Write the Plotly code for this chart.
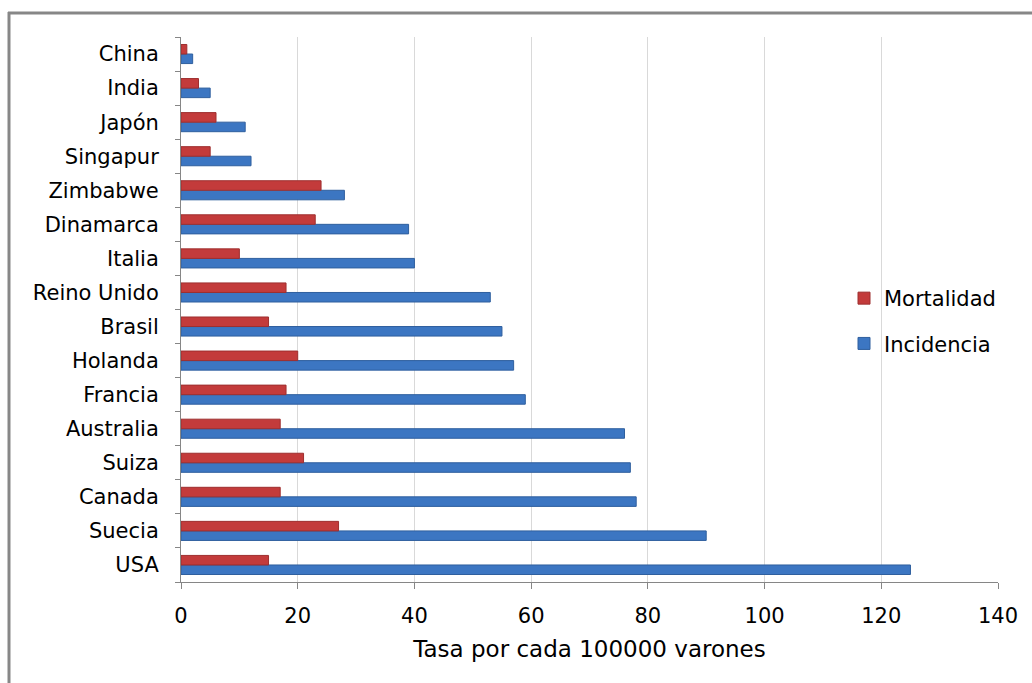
import plotly.graph_objects as go

# Countries listed bottom to top (USA at the bottom of the chart)
paises = ["USA", "Suecia", "Canada", "Suiza", "Australia", "Francia", "Holanda",
          "Brasil", "Reino Unido", "Italia", "Dinamarca", "Zimbabwe", "Singapur",
          "Japón", "India", "China"]
incidencia = [125, 90, 78, 77, 76, 59, 57, 55, 53, 40, 39, 28, 12, 11, 5, 2]
mortalidad = [15, 27, 17, 21, 17, 18, 20, 15, 18, 10, 23, 24, 5, 6, 3, 1]
x_ticks = [0, 20, 40, 60, 80, 100, 120, 140]

FONT = "DejaVu Sans"
AXIS_GRAY = "#868686"
FS = 21

fig = go.Figure()
fig.add_trace(go.Bar(
    y=paises, x=incidencia, orientation="h", name="Incidencia",
    legendgroup="inc", legendrank=2,
    marker=dict(color="#3C76C2", line=dict(color="#2F5F9E", width=1)),
))
fig.add_trace(go.Bar(
    y=paises, x=mortalidad, orientation="h", name="Mortalidad",
    legendgroup="mor", legendrank=1,
    marker=dict(color="#C33B3B", line=dict(color="#9E2F2F", width=1)),
))

# Plot area geometry in pixels
L, R, T, B = 181, 34, 37, 101
W, H = 1032, 683
pw, ph = W - L - R, H - T - B

def px_x(p):
    return (p - L) / pw

def px_y(p):
    return (H - B - p) / ph

# Outer frame (left and top edges visible)
frame = dict(color="#878787", width=3)
fig.add_shape(type="line", xref="paper", yref="paper",
              x0=px_x(9), x1=px_x(9), y0=px_y(700), y1=px_y(12), line=frame)
fig.add_shape(type="line", xref="paper", yref="paper",
              x0=px_x(8), x1=px_x(1040), y0=px_y(13), y1=px_y(13), line=frame)

fig.update_layout(
    width=W, height=H,
    margin=dict(l=L, r=R, t=T, b=B, pad=0),
    paper_bgcolor="white", plot_bgcolor="white",
    barmode="group", bargap=0.44, bargroupgap=0,
    font=dict(family=FONT, size=FS, color="#000000"),
    showlegend=True,
    legend=dict(
        x=px_x(844), y=px_y(321), xanchor="left", yanchor="middle",
        traceorder="grouped", tracegroupgap=15,
        font=dict(family=FONT, size=FS, color="#000000"),
        bgcolor="rgba(0,0,0,0)",
    ),
    xaxis=dict(
        range=[0, 140], tickvals=x_ticks, ticktext=[str(v) for v in x_ticks],
        showgrid=True, gridcolor="#D9D9D9", gridwidth=1,
        showline=True, linecolor=AXIS_GRAY, linewidth=1,
        ticks="outside", ticklen=6, tickcolor=AXIS_GRAY,
        tickfont=dict(family=FONT, size=FS),
        ticklabelstandoff=9,
        title=dict(text="Tasa por cada 100000 varones",
                   font=dict(family=FONT, size=23), standoff=13),
        zeroline=False, fixedrange=True,
    ),
    yaxis=dict(
        categoryorder="array", categoryarray=paises,
        showline=True, linecolor=AXIS_GRAY, linewidth=1,
        ticks="outside", ticklen=5, tickcolor=AXIS_GRAY, tickson="boundaries",
        tickfont=dict(family=FONT, size=FS),
        ticklabelstandoff=17,
        showgrid=False, zeroline=False, fixedrange=True,
    ),
)

fig.write_html("out.html")
